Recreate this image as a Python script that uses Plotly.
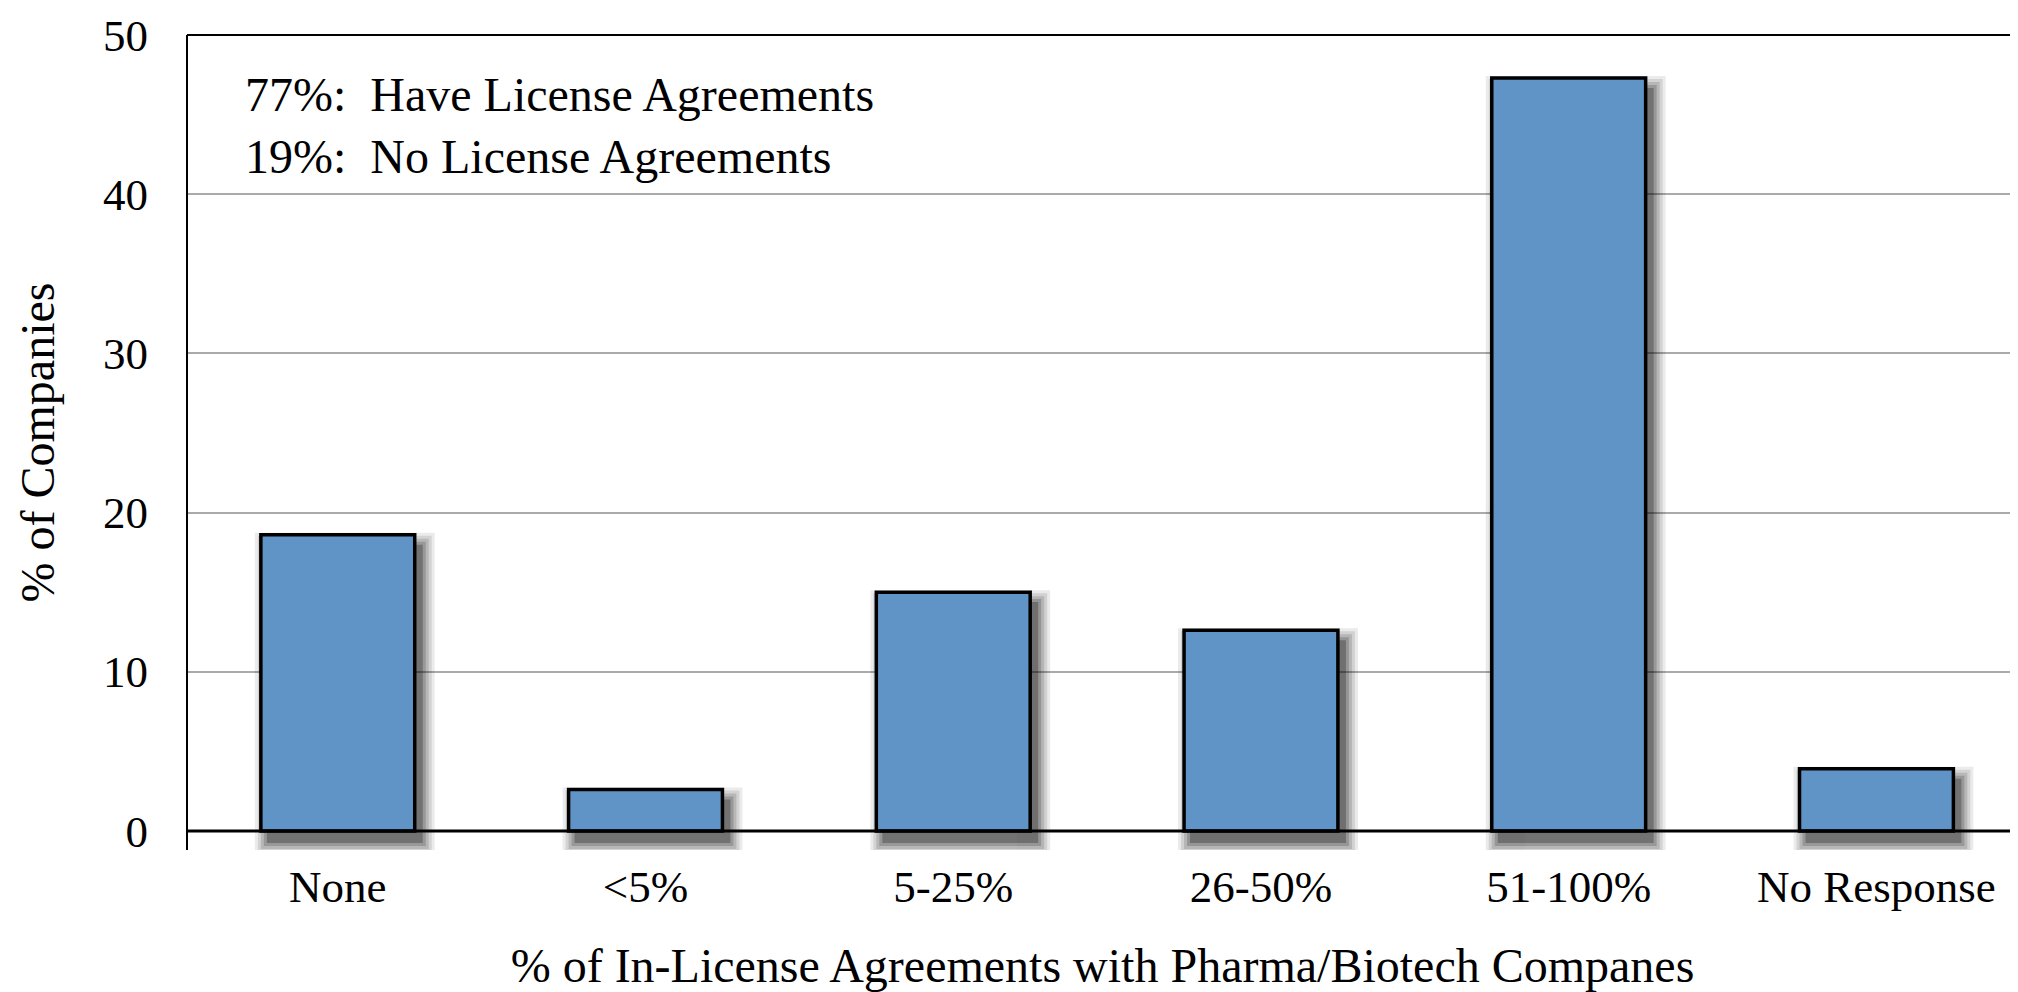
import plotly.graph_objects as go

categories = ["None", "<5%", "5-25%", "26-50%", "51-100%", "No Response"]
values = [18.6, 2.6, 15.0, 12.6, 47.3, 3.9]
y_ticks = [0, 10, 20, 30, 40, 50]
note_lines = ["77%:  Have License Agreements", "19%:  No License Agreements"]
x_title = "% of In-License Agreements with Pharma/Biotech Companes"
y_title = "% of Companies"

FONT = "Liberation Serif, Times New Roman, serif"
BAR_W = 0.5
px_per_cat = 307.7   # approx pixels per category
px_per_unit = 15.93  # approx pixels per y unit

fig = go.Figure()

# soft drop shadow built from layered translucent bars
dx_px, dy_px = 7, 11
layers = [(13, 0.08), (10, 0.10), (7, 0.13), (4, 0.17), (1, 0.25)]
for grow_px, op in layers:
    ex = grow_px / px_per_cat
    ey = grow_px / px_per_unit
    dy = dy_px / px_per_unit
    fig.add_trace(go.Bar(
        x=categories,
        y=[v + 2 * ey for v in values],
        base=[-dy - ey] * len(values),
        width=BAR_W + 2 * ex,
        offset=-BAR_W / 2 + dx_px / px_per_cat - ex,
        marker=dict(color="black", line=dict(width=0)),
        opacity=op,
        hoverinfo="skip",
        showlegend=False,
    ))

fig.add_trace(go.Bar(
    x=categories,
    y=values,
    width=BAR_W,
    marker=dict(color="#6094C6", line=dict(color="black", width=3.5)),
    showlegend=False,
))

fig.update_layout(
    width=2010, height=984,
    barmode="overlay",
    plot_bgcolor="white", paper_bgcolor="white",
    margin=dict(l=179, r=0, t=27, b=142),
    font=dict(family=FONT, color="black", size=45),
    xaxis=dict(
        range=[-0.49, 5.46],
        showgrid=False, zeroline=False, showline=False,
        ticks="", ticklabelstandoff=6,
        tickfont=dict(family=FONT, size=45, color="black"),
        title=dict(text=x_title, font=dict(family=FONT, size=48, color="black"), standoff=40),
    ),
    yaxis=dict(
        range=[-1.2, 50],
        tickvals=y_ticks,
        showgrid=True, gridcolor="#AAAAAA", gridwidth=2,
        zeroline=False, showline=False,
        ticks="", ticklabelstandoff=38,
        tickfont=dict(family=FONT, size=45, color="black"),
        title=dict(text=y_title, font=dict(family=FONT, size=48, color="black"), standoff=33),
    ),
    shapes=[
        dict(type="line", xref="paper", yref="y", x0=0, x1=1, y0=0, y1=0,
             line=dict(color="black", width=3), layer="above"),
        dict(type="line", xref="paper", yref="paper", x0=0, x1=1, y0=1, y1=1,
             line=dict(color="black", width=2), layer="above"),
        dict(type="line", xref="paper", yref="paper", x0=0, x1=0, y0=0, y1=1,
             line=dict(color="black", width=2), layer="above"),
    ],
    annotations=[
        dict(text="<br>".join(note_lines), xref="paper", yref="paper",
             x=(243 - 187) / (2018 - 187), y=0.962, xanchor="left", yanchor="top",
             align="left", showarrow=False,
             font=dict(family=FONT, size=48, color="black")),
    ],
)

fig.write_html("out.html")
